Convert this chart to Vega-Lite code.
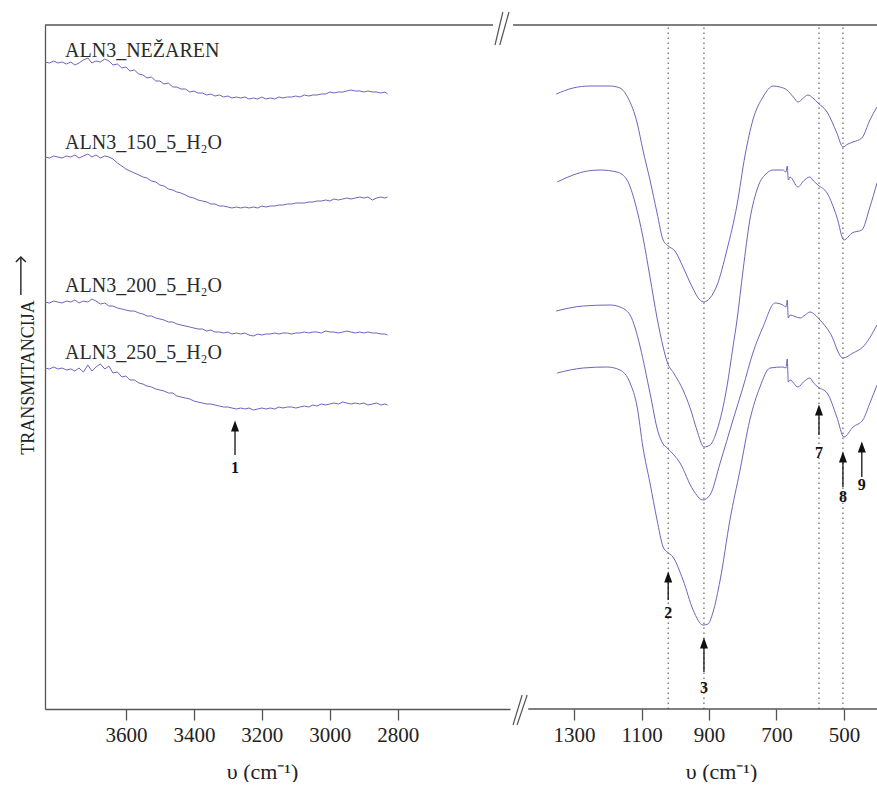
{
"$schema":"https://vega.github.io/schema/vega-lite/v6.json",
"background":"white",
"padding":{"left":13,"top":11,"right":0,"bottom":0},
"spacing":0,
"bounds":"flush",
"config":{"view":{"stroke":null},"font":"Liberation Serif",
"axis":{"domainColor":"#555","domainWidth":1.3,"tickColor":"#555","tickWidth":1.3,"grid":false,"labelFont":"Liberation Serif","labelFontSize":21,"labelColor":"#222","titleFont":"Liberation Serif","titleFontWeight":"normal","titleColor":"#222","labelFlush":false}},
"datasets":{
"L":[
{"s":"a","x":3838,"y":647},{"s":"a","x":3825,"y":646},{"s":"a","x":3812,"y":648},{"s":"a","x":3800,"y":646},{"s":"a","x":3788,"y":647},{"s":"a","x":3775,"y":645},{"s":"a","x":3762,"y":647},{"s":"a","x":3750,"y":644},{"s":"a","x":3738,"y":646},{"s":"a","x":3725,"y":649},{"s":"a","x":3712,"y":651},{"s":"a","x":3700,"y":646},{"s":"a","x":3688,"y":648},{"s":"a","x":3675,"y":647},{"s":"a","x":3662,"y":650},{"s":"a","x":3650,"y":648},{"s":"a","x":3638,"y":644},{"s":"a","x":3625,"y":645},{"s":"a","x":3612,"y":641},{"s":"a","x":3600,"y":642},{"s":"a","x":3588,"y":638},{"s":"a","x":3575,"y":639},{"s":"a","x":3562,"y":635},{"s":"a","x":3550,"y":634},{"s":"a","x":3538,"y":631},{"s":"a","x":3525,"y":632},{"s":"a","x":3512,"y":628},{"s":"a","x":3500,"y":628},{"s":"a","x":3488,"y":625},{"s":"a","x":3475,"y":626},{"s":"a","x":3462,"y":622},{"s":"a","x":3450,"y":622},{"s":"a","x":3438,"y":620},{"s":"a","x":3425,"y":620},{"s":"a","x":3412,"y":617},{"s":"a","x":3400,"y":618},{"s":"a","x":3388,"y":616},{"s":"a","x":3375,"y":616},{"s":"a","x":3362,"y":614},{"s":"a","x":3350,"y":615},{"s":"a","x":3338,"y":613},{"s":"a","x":3325,"y":614},{"s":"a","x":3312,"y":612},{"s":"a","x":3300,"y":613},{"s":"a","x":3288,"y":611},{"s":"a","x":3275,"y":612},{"s":"a","x":3262,"y":611},{"s":"a","x":3250,"y":612},{"s":"a","x":3238,"y":610},{"s":"a","x":3225,"y":611},{"s":"a","x":3212,"y":610},{"s":"a","x":3200,"y":612},{"s":"a","x":3188,"y":610},{"s":"a","x":3175,"y":611},{"s":"a","x":3162,"y":610},{"s":"a","x":3150,"y":612},{"s":"a","x":3138,"y":611},{"s":"a","x":3125,"y":612},{"s":"a","x":3112,"y":612},{"s":"a","x":3100,"y":613},{"s":"a","x":3088,"y":612},{"s":"a","x":3075,"y":614},{"s":"a","x":3062,"y":613},{"s":"a","x":3050,"y":614},{"s":"a","x":3038,"y":614},{"s":"a","x":3025,"y":615},{"s":"a","x":3012,"y":615},{"s":"a","x":3000,"y":617},{"s":"a","x":2988,"y":616},{"s":"a","x":2975,"y":617},{"s":"a","x":2962,"y":617},{"s":"a","x":2950,"y":618},{"s":"a","x":2938,"y":619},{"s":"a","x":2925,"y":618},{"s":"a","x":2912,"y":618},{"s":"a","x":2900,"y":617},{"s":"a","x":2888,"y":618},{"s":"a","x":2875,"y":617},{"s":"a","x":2862,"y":617},{"s":"a","x":2850,"y":616},{"s":"a","x":2838,"y":617},{"s":"a","x":2830,"y":615},
{"s":"b","x":3838,"y":552},{"s":"b","x":3825,"y":551},{"s":"b","x":3812,"y":553},{"s":"b","x":3800,"y":552},{"s":"b","x":3788,"y":551},{"s":"b","x":3775,"y":553},{"s":"b","x":3762,"y":552},{"s":"b","x":3750,"y":554},{"s":"b","x":3738,"y":551},{"s":"b","x":3725,"y":553},{"s":"b","x":3712,"y":555},{"s":"b","x":3700,"y":552},{"s":"b","x":3688,"y":554},{"s":"b","x":3675,"y":551},{"s":"b","x":3662,"y":553},{"s":"b","x":3650,"y":552},{"s":"b","x":3638,"y":550},{"s":"b","x":3625,"y":546},{"s":"b","x":3612,"y":543},{"s":"b","x":3600,"y":540},{"s":"b","x":3588,"y":538},{"s":"b","x":3575,"y":536},{"s":"b","x":3562,"y":534},{"s":"b","x":3550,"y":532},{"s":"b","x":3538,"y":531},{"s":"b","x":3525,"y":528},{"s":"b","x":3512,"y":527},{"s":"b","x":3500,"y":524},{"s":"b","x":3488,"y":523},{"s":"b","x":3475,"y":520},{"s":"b","x":3462,"y":519},{"s":"b","x":3450,"y":517},{"s":"b","x":3438,"y":516},{"s":"b","x":3425,"y":514},{"s":"b","x":3412,"y":512},{"s":"b","x":3400,"y":511},{"s":"b","x":3388,"y":509},{"s":"b","x":3375,"y":508},{"s":"b","x":3362,"y":507},{"s":"b","x":3350,"y":505},{"s":"b","x":3338,"y":505},{"s":"b","x":3325,"y":503},{"s":"b","x":3312,"y":503},{"s":"b","x":3300,"y":502},{"s":"b","x":3288,"y":501},{"s":"b","x":3275,"y":502},{"s":"b","x":3262,"y":501},{"s":"b","x":3250,"y":502},{"s":"b","x":3238,"y":501},{"s":"b","x":3225,"y":502},{"s":"b","x":3212,"y":501},{"s":"b","x":3200,"y":503},{"s":"b","x":3188,"y":502},{"s":"b","x":3175,"y":503},{"s":"b","x":3162,"y":503},{"s":"b","x":3150,"y":504},{"s":"b","x":3138,"y":504},{"s":"b","x":3125,"y":505},{"s":"b","x":3112,"y":505},{"s":"b","x":3100,"y":506},{"s":"b","x":3088,"y":506},{"s":"b","x":3075,"y":506},{"s":"b","x":3062,"y":507},{"s":"b","x":3050,"y":507},{"s":"b","x":3038,"y":508},{"s":"b","x":3025,"y":508},{"s":"b","x":3012,"y":509},{"s":"b","x":3000,"y":508},{"s":"b","x":2988,"y":510},{"s":"b","x":2975,"y":509},{"s":"b","x":2962,"y":510},{"s":"b","x":2950,"y":511},{"s":"b","x":2938,"y":510},{"s":"b","x":2925,"y":511},{"s":"b","x":2912,"y":512},{"s":"b","x":2900,"y":511},{"s":"b","x":2888,"y":512},{"s":"b","x":2875,"y":509},{"s":"b","x":2862,"y":511},{"s":"b","x":2850,"y":512},{"s":"b","x":2838,"y":511},{"s":"b","x":2830,"y":512},
{"s":"c","x":3838,"y":407},{"s":"c","x":3825,"y":406},{"s":"c","x":3812,"y":408},{"s":"c","x":3800,"y":407},{"s":"c","x":3788,"y":406},{"s":"c","x":3775,"y":408},{"s":"c","x":3762,"y":407},{"s":"c","x":3750,"y":409},{"s":"c","x":3738,"y":406},{"s":"c","x":3725,"y":408},{"s":"c","x":3712,"y":407},{"s":"c","x":3700,"y":410},{"s":"c","x":3688,"y":408},{"s":"c","x":3675,"y":405},{"s":"c","x":3662,"y":406},{"s":"c","x":3650,"y":403},{"s":"c","x":3638,"y":403},{"s":"c","x":3625,"y":401},{"s":"c","x":3612,"y":400},{"s":"c","x":3600,"y":399},{"s":"c","x":3588,"y":398},{"s":"c","x":3575,"y":398},{"s":"c","x":3562,"y":396},{"s":"c","x":3550,"y":395},{"s":"c","x":3538,"y":393},{"s":"c","x":3525,"y":393},{"s":"c","x":3512,"y":391},{"s":"c","x":3500,"y":390},{"s":"c","x":3488,"y":389},{"s":"c","x":3475,"y":387},{"s":"c","x":3462,"y":387},{"s":"c","x":3450,"y":385},{"s":"c","x":3438,"y":384},{"s":"c","x":3425,"y":383},{"s":"c","x":3412,"y":382},{"s":"c","x":3400,"y":381},{"s":"c","x":3388,"y":380},{"s":"c","x":3375,"y":380},{"s":"c","x":3362,"y":378},{"s":"c","x":3350,"y":379},{"s":"c","x":3338,"y":377},{"s":"c","x":3325,"y":377},{"s":"c","x":3312,"y":376},{"s":"c","x":3300,"y":377},{"s":"c","x":3288,"y":375},{"s":"c","x":3275,"y":376},{"s":"c","x":3262,"y":375},{"s":"c","x":3250,"y":376},{"s":"c","x":3238,"y":374},{"s":"c","x":3225,"y":373},{"s":"c","x":3212,"y":375},{"s":"c","x":3200,"y":374},{"s":"c","x":3188,"y":375},{"s":"c","x":3175,"y":375},{"s":"c","x":3162,"y":376},{"s":"c","x":3150,"y":375},{"s":"c","x":3138,"y":376},{"s":"c","x":3125,"y":376},{"s":"c","x":3112,"y":375},{"s":"c","x":3100,"y":376},{"s":"c","x":3088,"y":376},{"s":"c","x":3075,"y":377},{"s":"c","x":3062,"y":376},{"s":"c","x":3050,"y":377},{"s":"c","x":3038,"y":377},{"s":"c","x":3025,"y":376},{"s":"c","x":3012,"y":378},{"s":"c","x":3000,"y":377},{"s":"c","x":2988,"y":377},{"s":"c","x":2975,"y":376},{"s":"c","x":2962,"y":377},{"s":"c","x":2950,"y":378},{"s":"c","x":2938,"y":377},{"s":"c","x":2925,"y":376},{"s":"c","x":2912,"y":377},{"s":"c","x":2900,"y":376},{"s":"c","x":2888,"y":377},{"s":"c","x":2875,"y":376},{"s":"c","x":2862,"y":376},{"s":"c","x":2850,"y":375},{"s":"c","x":2838,"y":375},{"s":"c","x":2830,"y":374},
{"s":"d","x":3838,"y":341},{"s":"d","x":3825,"y":340},{"s":"d","x":3812,"y":342},{"s":"d","x":3800,"y":340},{"s":"d","x":3788,"y":341},{"s":"d","x":3775,"y":339},{"s":"d","x":3762,"y":340},{"s":"d","x":3750,"y":338},{"s":"d","x":3738,"y":341},{"s":"d","x":3725,"y":337},{"s":"d","x":3712,"y":344},{"s":"d","x":3700,"y":338},{"s":"d","x":3688,"y":342},{"s":"d","x":3675,"y":345},{"s":"d","x":3662,"y":340},{"s":"d","x":3650,"y":343},{"s":"d","x":3638,"y":336},{"s":"d","x":3625,"y":337},{"s":"d","x":3612,"y":332},{"s":"d","x":3600,"y":333},{"s":"d","x":3588,"y":329},{"s":"d","x":3575,"y":329},{"s":"d","x":3562,"y":326},{"s":"d","x":3550,"y":325},{"s":"d","x":3538,"y":323},{"s":"d","x":3525,"y":322},{"s":"d","x":3512,"y":320},{"s":"d","x":3500,"y":319},{"s":"d","x":3488,"y":318},{"s":"d","x":3475,"y":316},{"s":"d","x":3462,"y":316},{"s":"d","x":3450,"y":313},{"s":"d","x":3438,"y":312},{"s":"d","x":3425,"y":311},{"s":"d","x":3412,"y":310},{"s":"d","x":3400,"y":308},{"s":"d","x":3388,"y":307},{"s":"d","x":3375,"y":306},{"s":"d","x":3362,"y":305},{"s":"d","x":3350,"y":305},{"s":"d","x":3338,"y":304},{"s":"d","x":3325,"y":303},{"s":"d","x":3312,"y":302},{"s":"d","x":3300,"y":302},{"s":"d","x":3288,"y":301},{"s":"d","x":3275,"y":300},{"s":"d","x":3262,"y":301},{"s":"d","x":3250,"y":300},{"s":"d","x":3238,"y":301},{"s":"d","x":3225,"y":299},{"s":"d","x":3212,"y":300},{"s":"d","x":3200,"y":301},{"s":"d","x":3188,"y":300},{"s":"d","x":3175,"y":301},{"s":"d","x":3162,"y":300},{"s":"d","x":3150,"y":302},{"s":"d","x":3138,"y":301},{"s":"d","x":3125,"y":302},{"s":"d","x":3112,"y":302},{"s":"d","x":3100,"y":301},{"s":"d","x":3088,"y":302},{"s":"d","x":3075,"y":303},{"s":"d","x":3062,"y":302},{"s":"d","x":3050,"y":304},{"s":"d","x":3038,"y":303},{"s":"d","x":3025,"y":305},{"s":"d","x":3012,"y":304},{"s":"d","x":3000,"y":305},{"s":"d","x":2988,"y":306},{"s":"d","x":2975,"y":305},{"s":"d","x":2962,"y":307},{"s":"d","x":2950,"y":306},{"s":"d","x":2938,"y":305},{"s":"d","x":2925,"y":306},{"s":"d","x":2912,"y":305},{"s":"d","x":2900,"y":306},{"s":"d","x":2888,"y":304},{"s":"d","x":2875,"y":305},{"s":"d","x":2862,"y":306},{"s":"d","x":2850,"y":304},{"s":"d","x":2838,"y":305},{"s":"d","x":2830,"y":304}
],
"R":[
{"s":"a","x":1353,"y":615},{"s":"a","x":1303,"y":621},{"s":"a","x":1253,"y":623},{"s":"a","x":1193,"y":623},{"s":"a","x":1164,"y":621},{"s":"a","x":1140,"y":611},{"s":"a","x":1113,"y":586},{"s":"a","x":1096,"y":559},{"s":"a","x":1075,"y":529},{"s":"a","x":1054,"y":496},{"s":"a","x":1036,"y":469},{"s":"a","x":1021,"y":463},{"s":"a","x":1001,"y":458},{"s":"a","x":977,"y":442},{"s":"a","x":950,"y":422},{"s":"a","x":927,"y":409},{"s":"a","x":915,"y":407},{"s":"a","x":897,"y":411},{"s":"a","x":876,"y":424},{"s":"a","x":847,"y":459},{"s":"a","x":817,"y":504},{"s":"a","x":793,"y":554},{"s":"a","x":770,"y":589},{"s":"a","x":740,"y":612},{"s":"a","x":710,"y":623},{"s":"a","x":690,"y":622},{"s":"a","x":669,"y":619},{"s":"a","x":650,"y":612},{"s":"a","x":636,"y":607},{"s":"a","x":620,"y":611},{"s":"a","x":607,"y":614},{"s":"a","x":592,"y":611},{"s":"a","x":577,"y":606},{"s":"a","x":550,"y":597},{"s":"a","x":521,"y":576},{"s":"a","x":503,"y":562},{"s":"a","x":488,"y":565},{"s":"a","x":473,"y":567},{"s":"a","x":447,"y":571},{"s":"a","x":423,"y":589},{"s":"a","x":402,"y":602},
{"s":"b","x":1350,"y":527},{"s":"b","x":1303,"y":534},{"s":"b","x":1260,"y":538},{"s":"b","x":1223,"y":539},{"s":"b","x":1173,"y":537},{"s":"b","x":1143,"y":529},{"s":"b","x":1119,"y":506},{"s":"b","x":1096,"y":472},{"s":"b","x":1075,"y":432},{"s":"b","x":1054,"y":391},{"s":"b","x":1036,"y":362},{"s":"b","x":1024,"y":347},{"s":"b","x":1003,"y":335},{"s":"b","x":977,"y":319},{"s":"b","x":955,"y":300},{"s":"b","x":936,"y":279},{"s":"b","x":915,"y":262},{"s":"b","x":897,"y":264},{"s":"b","x":876,"y":279},{"s":"b","x":847,"y":322},{"s":"b","x":829,"y":362},{"s":"b","x":817,"y":389},{"s":"b","x":799,"y":439},{"s":"b","x":779,"y":489},{"s":"b","x":755,"y":522},{"s":"b","x":728,"y":536},{"s":"b","x":710,"y":539},{"s":"b","x":681,"y":539},{"s":"b","x":672,"y":537},{"s":"b","x":668,"y":543},{"s":"b","x":665,"y":529},{"s":"b","x":660,"y":532},{"s":"b","x":636,"y":522},{"s":"b","x":620,"y":528},{"s":"b","x":601,"y":532},{"s":"b","x":590,"y":528},{"s":"b","x":577,"y":524},{"s":"b","x":550,"y":516},{"s":"b","x":521,"y":492},{"s":"b","x":500,"y":469},{"s":"b","x":476,"y":476},{"s":"b","x":447,"y":479},{"s":"b","x":423,"y":502},{"s":"b","x":402,"y":526},
{"s":"c","x":1353,"y":398},{"s":"c","x":1273,"y":403},{"s":"c","x":1193,"y":404},{"s":"c","x":1164,"y":402},{"s":"c","x":1134,"y":394},{"s":"c","x":1119,"y":381},{"s":"c","x":1104,"y":362},{"s":"c","x":1075,"y":316},{"s":"c","x":1051,"y":277},{"s":"c","x":1036,"y":265},{"s":"c","x":1024,"y":261},{"s":"c","x":986,"y":246},{"s":"c","x":947,"y":219},{"s":"c","x":918,"y":209},{"s":"c","x":897,"y":214},{"s":"c","x":867,"y":246},{"s":"c","x":829,"y":289},{"s":"c","x":799,"y":322},{"s":"c","x":770,"y":356},{"s":"c","x":740,"y":382},{"s":"c","x":704,"y":406},{"s":"c","x":681,"y":404},{"s":"c","x":672,"y":402},{"s":"c","x":668,"y":409},{"s":"c","x":665,"y":391},{"s":"c","x":660,"y":394},{"s":"c","x":630,"y":391},{"s":"c","x":615,"y":394},{"s":"c","x":601,"y":397},{"s":"c","x":571,"y":389},{"s":"c","x":541,"y":376},{"s":"c","x":503,"y":351},{"s":"c","x":473,"y":356},{"s":"c","x":444,"y":362},{"s":"c","x":402,"y":384},
{"s":"d","x":1350,"y":336},{"s":"d","x":1273,"y":341},{"s":"d","x":1202,"y":342},{"s":"d","x":1164,"y":339},{"s":"d","x":1134,"y":326},{"s":"d","x":1113,"y":302},{"s":"d","x":1096,"y":262},{"s":"d","x":1075,"y":226},{"s":"d","x":1054,"y":189},{"s":"d","x":1036,"y":162},{"s":"d","x":1024,"y":157},{"s":"d","x":1007,"y":152},{"s":"d","x":977,"y":129},{"s":"d","x":947,"y":99},{"s":"d","x":918,"y":84},{"s":"d","x":903,"y":85},{"s":"d","x":888,"y":97},{"s":"d","x":867,"y":129},{"s":"d","x":838,"y":189},{"s":"d","x":808,"y":239},{"s":"d","x":779,"y":289},{"s":"d","x":749,"y":322},{"s":"d","x":719,"y":341},{"s":"d","x":681,"y":342},{"s":"d","x":672,"y":341},{"s":"d","x":668,"y":350},{"s":"d","x":665,"y":327},{"s":"d","x":660,"y":329},{"s":"d","x":636,"y":322},{"s":"d","x":620,"y":327},{"s":"d","x":601,"y":331},{"s":"d","x":590,"y":326},{"s":"d","x":577,"y":322},{"s":"d","x":550,"y":316},{"s":"d","x":521,"y":292},{"s":"d","x":500,"y":272},{"s":"d","x":473,"y":282},{"s":"d","x":444,"y":289},{"s":"d","x":423,"y":306},{"s":"d","x":402,"y":324}
],
"labels":[
{"x":3779,"y":652,"t":"ALN3_NEŽAREN"},
{"x":3779,"y":560,"t":"ALN3_150_5_H₂O"},
{"x":3779,"y":417,"t":"ALN3_200_5_H₂O"},
{"x":3779,"y":350,"t":"ALN3_250_5_H₂O"}
],
"arrL":[{"x":3279,"tail":254,"tip":283,"lab":241,"n":"1"}],
"arrR":[
{"x":1021,"tail":109,"tip":132,"lab":96,"n":"2"},
{"x":915,"tail":37,"tip":66,"lab":21,"n":"3"},
{"x":574,"tail":274,"tip":299,"lab":256,"n":"7"},
{"x":503,"tail":222,"tip":252,"lab":212,"n":"8"},
{"x":447,"tail":232,"tip":262,"lab":224,"n":"9"}
],
"dots":[{"x":1021},{"x":915},{"x":574},{"x":503}],
"slashT":[{"x":2514,"x2":2491,"y":664,"y2":697},{"x":2500,"x2":2473,"y":664,"y2":697}],
"slashB":[{"x":1481,"x2":1454,"y":-16,"y2":14},{"x":1469,"x2":1439,"y":-16,"y2":14}],
"yarrow":[{"x":3909,"y":414,"y2":452}]
},
"hconcat":[
{
"width":465,"height":684,
"layer":[
{"data":{"name":"L"},"mark":{"type":"line","color":"#6d65bb","strokeWidth":1,"clip":true},
"encoding":{
"x":{"field":"x","type":"quantitative","scale":{"domain":[3838,2470],"nice":false,"zero":false},
"axis":{"values":[3600,3400,3200,3000,2800],"format":"d","tickSize":11,"labelPadding":4,"title":"υ (cm⁻¹)","titleFontSize":22,"titleX":217,"titleY":69,"titleBaseline":"alphabetic","titleAlign":"center","titleAnchor":null}},
"y":{"field":"y","type":"quantitative","scale":{"domain":[0,684],"nice":false,"zero":false},
"axis":{"title":"TRANSMITANCIJA","ticks":false,"labels":false,"titleFontSize":18,"titlePadding":8,"titleY":352}},
"detail":{"field":"s"}}},
{"data":{"name":"labels"},"mark":{"type":"text","align":"left","baseline":"alphabetic","fontSize":20,"font":"Liberation Serif","color":"#2a2a2a"},
"encoding":{"x":{"field":"x","type":"quantitative"},"y":{"field":"y","type":"quantitative"},"text":{"field":"t"}}},
{"data":{"name":"arrL"},"mark":{"type":"rule","color":"#111","strokeWidth":1.3},
"encoding":{"x":{"field":"x","type":"quantitative"},"y":{"field":"tail","type":"quantitative"},"y2":{"field":"tip"}}},
{"data":{"name":"arrL"},"mark":{"type":"point","shape":"M0,-1L0.73,1L-0.73,1Z","filled":true,"color":"#111","size":121,"opacity":1},
"encoding":{"x":{"field":"x","type":"quantitative"},"y":{"field":"tip","type":"quantitative"}}},
{"data":{"name":"arrL"},"mark":{"type":"text","fontSize":16,"fontWeight":"bold","font":"Liberation Serif","baseline":"middle","color":"#111"},
"encoding":{"x":{"field":"x","type":"quantitative"},"y":{"field":"lab","type":"quantitative"},"text":{"field":"n"}}},
{"data":{"values":[{}]},"mark":{"type":"rule","color":"#555","strokeWidth":1.3},
"encoding":{"x":{"datum":3838},"x2":{"datum":2520},"y":{"datum":684}}},
{"data":{"name":"slashT"},"mark":{"type":"rule","color":"#555","strokeWidth":1.2},
"encoding":{"x":{"field":"x","type":"quantitative"},"x2":{"field":"x2"},"y":{"field":"y","type":"quantitative"},"y2":{"field":"y2"}}},
{"data":{"name":"yarrow"},"mark":{"type":"rule","color":"#222","strokeWidth":1.4},
"encoding":{"x":{"field":"x","type":"quantitative"},"y":{"field":"y","type":"quantitative"},"y2":{"field":"y2"}}},
{"data":{"name":"yarrow"},"mark":{"type":"point","shape":"M-1,1L0,0L1,1","filled":false,"color":"#222","strokeWidth":1.4,"size":100,"opacity":1},
"encoding":{"x":{"field":"x","type":"quantitative"},"y":{"field":"y2","type":"quantitative"}}}
]
},
{
"width":367,"height":684,
"layer":[
{"data":{"name":"dots"},"mark":{"type":"rule","color":"#555","strokeWidth":1.1,"strokeDash":[1.5,3.5]},
"encoding":{"x":{"field":"x","type":"quantitative","scale":{"domain":[1490,402],"nice":false,"zero":false},
"axis":{"values":[1300,1100,900,700,500],"format":"d","domain":false,"tickSize":11,"labelPadding":4,"title":"υ (cm⁻¹)","titleFontSize":22,"titleX":211,"titleY":69,"titleBaseline":"alphabetic","titleAlign":"center","titleAnchor":null}},
"y":{"datum":0,"scale":{"domain":[0,684],"nice":false,"zero":false},"axis":null},"y2":{"datum":684}}},
{"data":{"name":"R"},"mark":{"type":"line","color":"#6d65bb","strokeWidth":1,"interpolate":"monotone","clip":true},
"encoding":{"x":{"field":"x","type":"quantitative"},"y":{"field":"y","type":"quantitative","axis":null},"detail":{"field":"s"}}},
{"data":{"name":"arrR"},"mark":{"type":"rule","color":"#111","strokeWidth":1.3},
"encoding":{"x":{"field":"x","type":"quantitative"},"y":{"field":"tail","type":"quantitative","axis":null},"y2":{"field":"tip"}}},
{"data":{"name":"arrR"},"mark":{"type":"point","shape":"M0,-1L0.73,1L-0.73,1Z","filled":true,"color":"#111","size":121,"opacity":1},
"encoding":{"x":{"field":"x","type":"quantitative"},"y":{"field":"tip","type":"quantitative","axis":null}}},
{"data":{"name":"arrR"},"mark":{"type":"text","fontSize":16,"fontWeight":"bold","font":"Liberation Serif","baseline":"middle","color":"#111"},
"encoding":{"x":{"field":"x","type":"quantitative"},"y":{"field":"lab","type":"quantitative","axis":null},"text":{"field":"n"}}},
{"data":{"values":[{}]},"mark":{"type":"rule","color":"#555","strokeWidth":1.3},
"encoding":{"x":{"datum":1481},"x2":{"datum":402},"y":{"datum":684,"axis":null}}},
{"data":{"values":[{}]},"mark":{"type":"rule","color":"#555","strokeWidth":1.3},
"encoding":{"x":{"datum":1436},"x2":{"datum":402},"y":{"datum":0,"axis":null}}},
{"data":{"name":"slashB"},"mark":{"type":"rule","color":"#555","strokeWidth":1.2},
"encoding":{"x":{"field":"x","type":"quantitative"},"x2":{"field":"x2"},"y":{"field":"y","type":"quantitative","axis":null},"y2":{"field":"y2"}}}
]
}
]
}
